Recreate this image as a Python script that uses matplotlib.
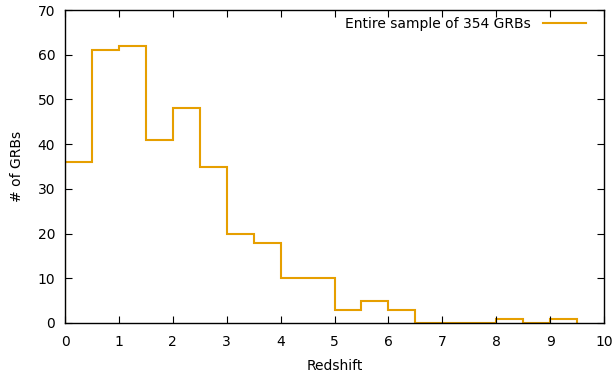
import numpy as np
import matplotlib
matplotlib.use('Agg')
import matplotlib.pyplot as plt

# histogram of redshifts, bins of 0.5
bin_edges = np.arange(0, 10.0, 0.5)
counts = [36, 61, 62, 41, 48, 35, 20, 18, 10, 10, 3, 5, 3, 0, 0, 0, 1, 0, 1]
label = 'Entire sample of 354 GRBs'

plt.rcParams['font.family'] = 'DejaVu Sans'
plt.rcParams['font.size'] = 10

fig = plt.figure(figsize=(6.16, 3.76), dpi=100)
ax = fig.add_axes([65 / 616, 1 - 323 / 376, (604 - 65) / 616, (323 - 10) / 376])

ax.stairs(counts, bin_edges, baseline=0, color='#E69F00', linewidth=1.5, label=label)

ax.set_xlim(0, 10)
ax.set_ylim(0, 70)
ax.set_xticks(np.arange(0, 11, 1))
ax.set_yticks(np.arange(0, 71, 10))
ax.tick_params(direction='in', top=True, right=True, length=5, width=0.8)
ax.tick_params(axis='x', pad=9)
ax.tick_params(axis='y', pad=7)
for s in ax.spines.values():
    s.set_linewidth(1.0)
ax.set_xlabel('Redshift', labelpad=7)
ax.set_ylabel('# of GRBs', labelpad=10)

ax.legend(loc='upper right', frameon=False, markerfirst=False, handlelength=3.1,
          borderpad=0, borderaxespad=0, handletextpad=0.9,
          bbox_to_anchor=(1 - 18 / 539, 1 - 7 / 313))

fig.savefig('out.png', dpi=100)
plt.close(fig)
